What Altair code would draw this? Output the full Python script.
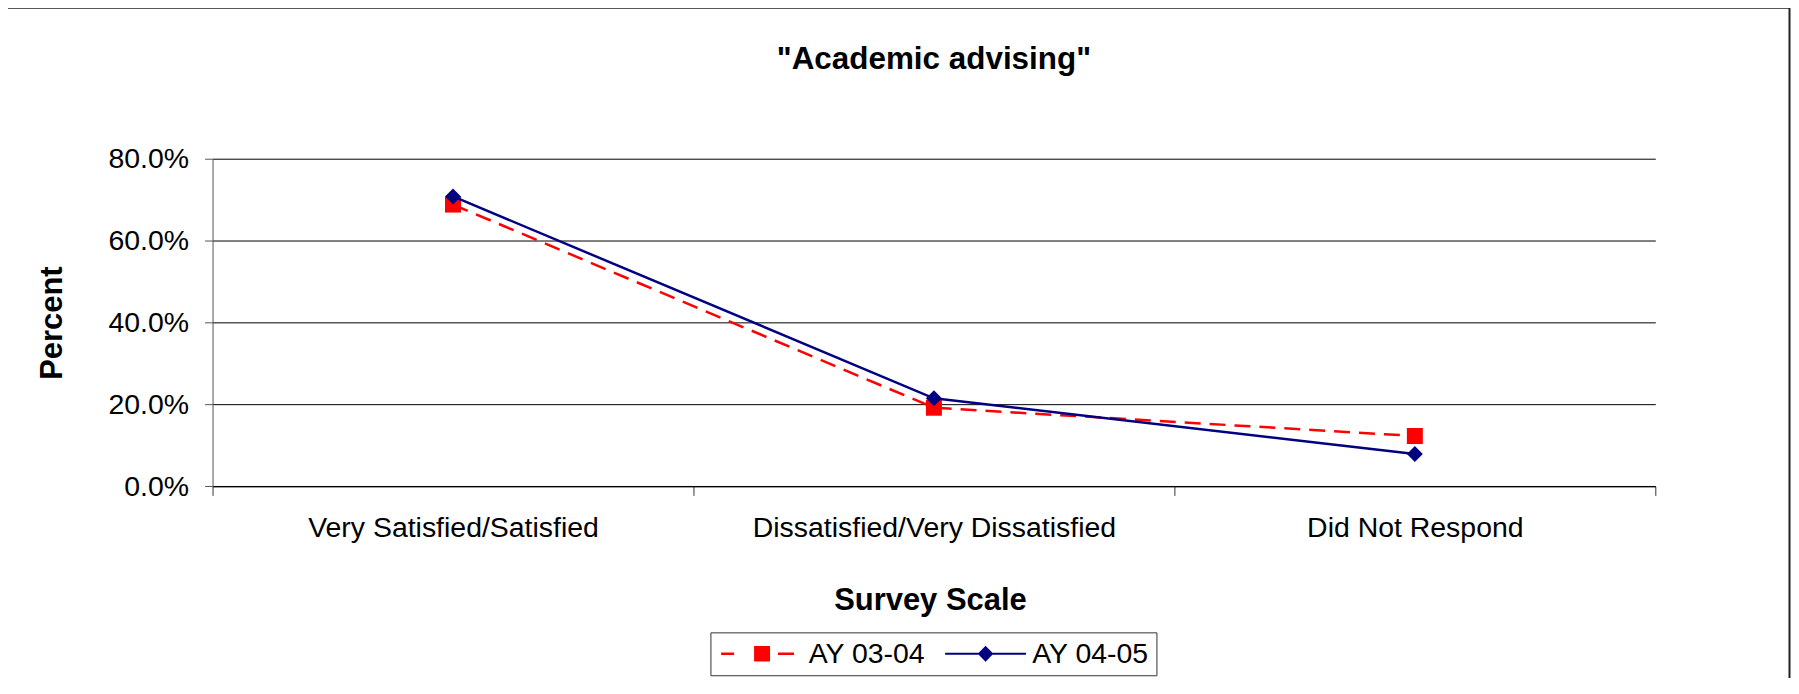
import altair as alt
import pandas as pd

# ---- data ----
categories = ["Very Satisfied/Satisfied", "Dissatisfied/Very Dissatisfied", "Did Not Respond"]
series_names = ["AY 03-04", "AY 04-05"]
ay_03_04 = [68.8, 19.2, 12.3]
ay_04_05 = [70.8, 21.5, 7.9]
y_ticks = [0, 20, 40, 60, 80]

rows = []
for name, vals in zip(series_names, [ay_03_04, ay_04_05]):
    for c, v in zip(categories, vals):
        rows.append({"cat": c, "val": v, "series": name})
df = pd.DataFrame(rows)

FONT = "Liberation Sans"
RED = "#FF0000"
NAVY = "#000080"
W, H = 1446, 328.4

# legend glyphs (line + marker), units of 10 px for symbolSize 400
leg_red = ("M-4.1,-0.13H-2.8V0.13H-4.1Z M-0.8,-0.78H0.8V0.78H-0.8Z "
           "M1.6,-0.13H3.2V0.13H1.6Z")
leg_navy = "M-4.05,-0.1H4.05V0.1H-4.05Z M0,-0.8L0.78,0L0,0.8L-0.78,0Z"
diamond = "M0,-1L1,0L0,1L-1,0Z"

x_enc = alt.X(
    "cat:N",
    sort=categories,
    scale=alt.Scale(type="band", domain=categories, paddingInner=0, paddingOuter=0),
    axis=alt.Axis(
        title="Survey Scale", tickBand="extent", labelAngle=0, grid=False,
        tickSize=9, labelPadding=18, labelLimit=1000, labelOverlap=False,
        domainColor="black", tickColor="#333",
        titleX=719, titleY=114, titleBaseline="middle", titleAlign="center",
    ),
)
y_enc = alt.Y(
    "val:Q",
    scale=alt.Scale(domain=[0, 80], nice=False),
    axis=alt.Axis(
        title="Percent", values=y_ticks,
        labelExpr="format(datum.value, '.1f') + '%'",
        tickSize=8, labelPadding=16, grid=True, gridColor="black", gridWidth=1,
        domainColor="#555", tickColor="#555",
        titleAngle=270, titleX=-160, titleY=H / 2, titleAlign="center",
        titleBaseline="middle",
    ),
)

base = alt.Chart(df).encode(x=x_enc, y=y_enc)

line_a = base.transform_filter(alt.datum.series == "AY 03-04").mark_line(
    color=RED, strokeWidth=2.5, strokeDash=[16, 9])
pts_a = base.transform_filter(alt.datum.series == "AY 03-04").mark_point(
    shape="square", filled=True, size=256, color=RED, opacity=1)
line_b = base.transform_filter(alt.datum.series == "AY 04-05").mark_line(
    color=NAVY, strokeWidth=2.5)
pts_b = base.transform_filter(alt.datum.series == "AY 04-05").mark_point(
    shape=diamond, filled=True, size=256, color=NAVY, opacity=1)

legend = alt.Legend(
    orient="none", legendX=499, legendY=474.7, direction="horizontal",
    title=None, labelFont=FONT, labelFontSize=28.5, labelColor="black",
    labelLimit=600, symbolSize=400, symbolOffset=30.5, labelOffset=32.5,
    symbolStrokeWidth=0, strokeColor="#333", fillColor="white", padding=7,
    columnPadding=15,
)
legend_layer = base.transform_filter("false").mark_point(filled=True, opacity=1).encode(
    color=alt.Color("series:N", scale=alt.Scale(domain=series_names, range=[RED, NAVY]),
                    legend=legend),
    shape=alt.Shape("series:N", scale=alt.Scale(domain=series_names, range=[leg_red, leg_navy]),
                    legend=legend),
)

frame = alt.Chart(alt.Data(values=[{"k": 1}])).mark_rect(
    fillOpacity=0, stroke="#222", strokeWidth=2
).encode(x=alt.value(-206), x2=alt.value(1580.5), y=alt.value(-151.3), y2=alt.value(700))

chart = alt.layer(frame, line_a, pts_a, line_b, pts_b, legend_layer).properties(
    width=W, height=H,
    title=alt.TitleParams(
        text='"Academic advising"', font=FONT, fontSize=31.5, fontWeight="bold",
        color="black", anchor="middle", baseline="alphabetic", offset=-94,
    ),
    padding={"left": 205, "top": 150.3, "right": 136, "bottom": 191.3},
    autosize=alt.AutoSizeParams(type="none"),
).configure_view(strokeWidth=0).configure_axis(
    labelFont=FONT, titleFont=FONT, labelFontSize=28.5, titleFontSize=31,
    titleFontWeight="bold", labelColor="black", titleColor="black",
)

chart.save("out.html", embed_options={"renderer": "svg", "actions": False})
